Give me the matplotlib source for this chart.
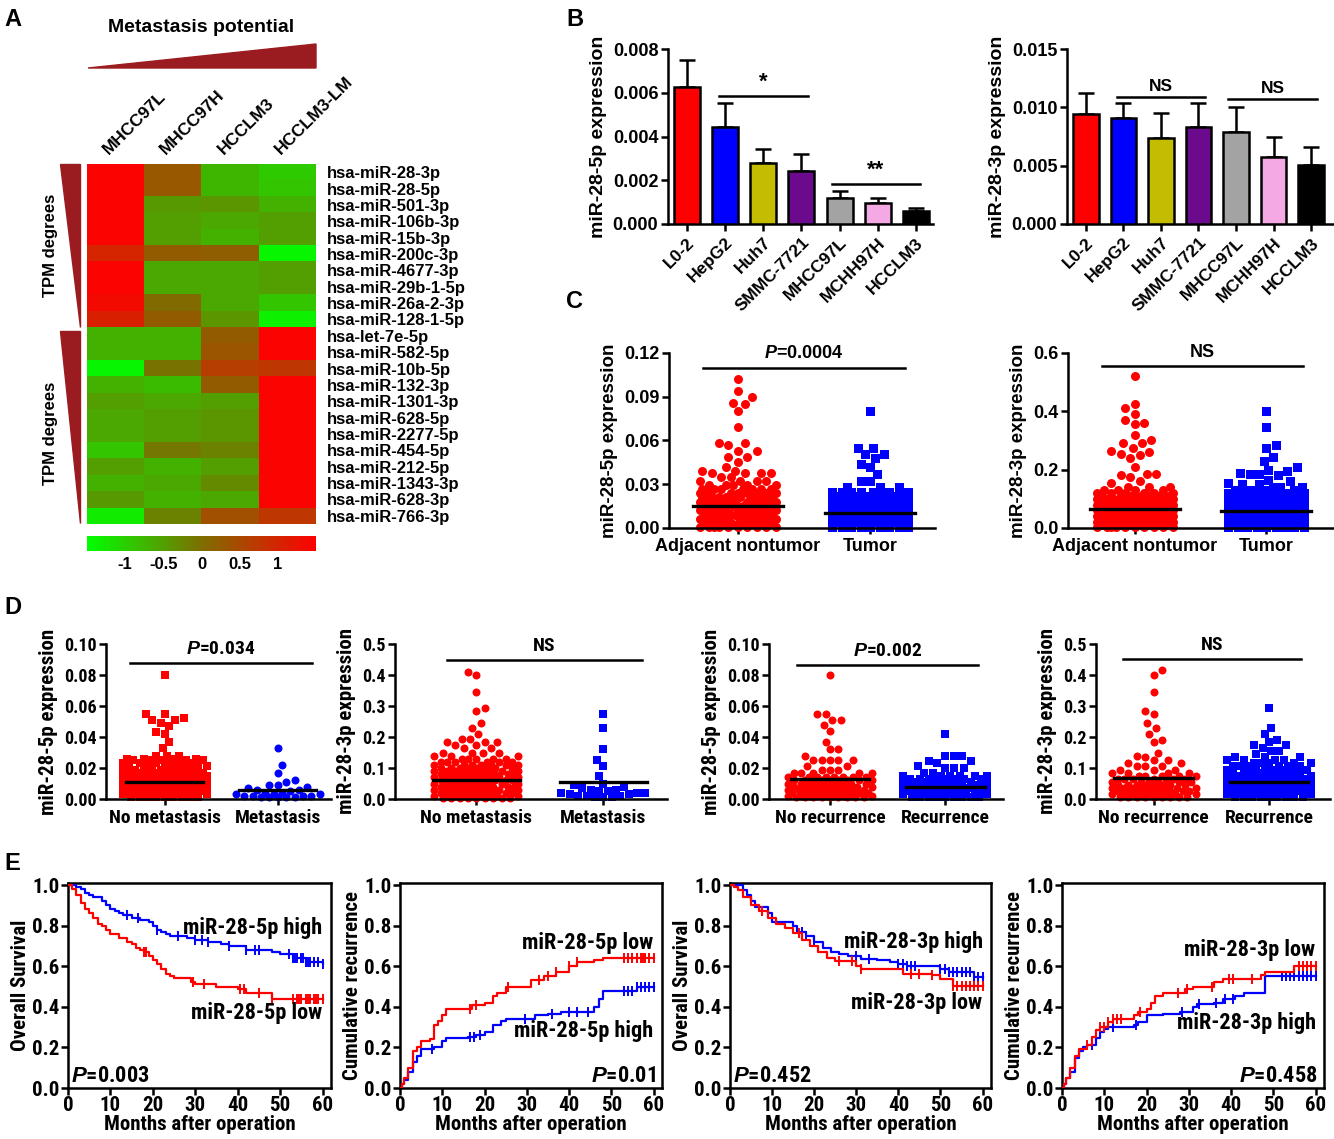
import numpy as np
import matplotlib
matplotlib.use("Agg")
import matplotlib.pyplot as plt
from matplotlib import font_manager as fm
from matplotlib.colors import LinearSegmentedColormap
from matplotlib.patches import Polygon
from matplotlib.ticker import FormatStrFormatter


def rle(text):
    out = []
    for tok in text.split():
        v, _, n = tok.partition("*")
        out += [float(v)] * int(n or 1)
    return np.array(out)


# ---------------- data ----------------
# A: heatmap (z-score of TPM)
cell_cols = ["MHCC97L", "MHCC97H", "HCCLM3", "HCCLM3-LM"]
mirnas = ["hsa-miR-28-3p", "hsa-miR-28-5p", "hsa-miR-501-3p", "hsa-miR-106b-3p",
          "hsa-miR-15b-3p", "hsa-miR-200c-3p", "hsa-miR-4677-3p", "hsa-miR-29b-1-5p",
          "hsa-miR-26a-2-3p", "hsa-miR-128-1-5p", "hsa-let-7e-5p", "hsa-miR-582-5p",
          "hsa-miR-10b-5p", "hsa-miR-132-3p", "hsa-miR-1301-3p", "hsa-miR-628-5p",
          "hsa-miR-2277-5p", "hsa-miR-454-5p", "hsa-miR-212-5p", "hsa-miR-1343-3p",
          "hsa-miR-628-3p", "hsa-miR-766-3p"]
tpm_z = [[1.45, 0.30, -0.75, -0.95],
         [1.45, 0.30, -0.75, -0.90],
         [1.45, -0.45, -0.40, -0.70],
         [1.45, -0.50, -0.60, -0.50],
         [1.45, -0.50, -0.70, -0.50],
         [1.00, 0.25, 0.20, -1.40],
         [1.45, -0.60, -0.60, -0.50],
         [1.45, -0.60, -0.60, -0.50],
         [1.35, 0.05, -0.60, -0.90],
         [1.05, 0.25, -0.40, -1.35],
         [-0.70, -0.70, 0.25, 1.45],
         [-0.70, -0.70, 0.35, 1.45],
         [-1.40, -0.05, 0.65, 0.75],
         [-0.70, -0.80, 0.25, 1.45],
         [-0.50, -0.60, -0.50, 1.45],
         [-0.60, -0.50, -0.40, 1.45],
         [-0.60, -0.50, -0.40, 1.45],
         [-0.90, -0.10, -0.20, 1.45],
         [-0.50, -0.70, -0.50, 1.45],
         [-0.70, -0.60, -0.30, 1.45],
         [-0.45, -0.70, -0.60, 1.45],
         [-1.30, -0.20, 0.40, 0.75]]

# B: cell line qPCR
cell_lines = ["L0-2", "HepG2", "Huh7", "SMMC-7721", "MHCC97L", "MCHH97H", "HCCLM3"]
bar_colors = ["#ff0000", "#0000ff", "#c4bc00", "#6c0a8e", "#a3a3a3", "#f4a8e4", "#000000"]
mir5p_cells = [0.00628, 0.00442, 0.00277, 0.00244, 0.00117, 0.00095, 0.00059]
mir5p_cells_sem = [0.00122, 0.00113, 0.00064, 0.00076, 0.00034, 0.00022, 0.00016]
mir3p_cells = [0.00943, 0.00906, 0.00734, 0.00829, 0.00791, 0.00577, 0.00506]
mir3p_cells_sem = [0.00183, 0.00128, 0.00215, 0.00205, 0.00215, 0.00172, 0.00157]

# C: tissue expression
c5p_adjacent = rle("""0.102 0.094 0.090 0.086 0.085 0.080 0.069 0.058*2 0.057 0.053*2 0.049*2 0.0455
0.0416 0.039*2 0.0375*4 0.035*2 0.032*4 0.0295*5 0.027*7 0.024*8 0.021*9 0.018*10 0.015*10
0.012*10 0.009*10 0.006*10 0.003*10 0.001*10""")
c5p_tumor = rle("""0.080 0.0546*2 0.0505*2 0.048 0.0437 0.042 0.037 0.032*2 0.028*3 0.025*7 0.022*8
0.019*9 0.016*10 0.013*10 0.010*10 0.007*10 0.004*10 0.001*10""")
c5p_means = [0.015, 0.010]
c3p_adjacent = rle("""0.52 0.425 0.41 0.39 0.37 0.36 0.355 0.32 0.30 0.29*2 0.275 0.265 0.26 0.255
0.25 0.24 0.21 0.185*2 0.18 0.175 0.16 0.155 0.14*3 0.13*4 0.12*6 0.11*7 0.10*8 0.09*9 0.08*9
0.07*10 0.06*10 0.05*10 0.04*10 0.03*10 0.02*10 0.01*10 0.003*10""")
c3p_tumor = rle("""0.40 0.345 0.285 0.275 0.245 0.23 0.21 0.20 0.195 0.19 0.185*2 0.18 0.165 0.16
0.155 0.15*2 0.14*3 0.13*4 0.12*6 0.11*7 0.10*8 0.09*9 0.08*10 0.07*10 0.06*10 0.05*10 0.04*10
0.03*10 0.02*10 0.01*10 0.003*10""")
c3p_means = [0.065, 0.058]

# D: clinical subgroups
d5p_nometa = rle("""0.080 0.055 0.055 0.052 0.051 0.051 0.049 0.047 0.043 0.042 0.037 0.033
0.028*3 0.026*4 0.025*5 0.023*6 0.021*7 0.019*8 0.017*9 0.015*9 0.013*9 0.011*9 0.009*9
0.007*9 0.005*9 0.003*9 0.001*9""")
d5p_meta = rle("""0.033 0.022 0.017 0.012 0.011 0.009*2 0.008 0.007 0.006*2 0.005 0.004*2
0.003*3 0.002*4 0.001*5""")
d5p_meta_means = [0.011, 0.0058]
d3p_nometa = rle("""0.41 0.40 0.345 0.295 0.285 0.245 0.23 0.21 0.195*2 0.185*3 0.175*2 0.165*2
0.15*4 0.14*3 0.13*5 0.12*6 0.11*7 0.10*8 0.09*9 0.08*9 0.07*9 0.06*9 0.05*9 0.04*9 0.03*9
0.02*9 0.01*9 0.003*9""")
d3p_meta = rle("""0.275 0.23 0.16 0.125 0.105 0.075 0.05 0.045 0.04 0.035 0.03*2 0.025*2 0.02*3
0.015*2 0.01*3 0.005*3""")
d3p_meta_means = [0.061, 0.056]
d5p_norec = rle("""0.080 0.055*2 0.051*2 0.048 0.044 0.037 0.032*2 0.028 0.025*5 0.021*2 0.019*3
0.0165*5 0.014*8 0.012*9 0.010*9 0.008*9 0.006*9 0.004*9 0.002*9 0.001*9""")
d5p_rec = rle("""0.042 0.028*3 0.0245*2 0.023 0.021 0.020*3 0.017*2 0.015*6 0.013*8 0.011*9
0.009*9 0.007*9 0.005*9 0.003*9 0.001*9""")
d5p_rec_means = [0.0127, 0.008]
d3p_norec = rle("""0.415 0.40 0.345 0.285 0.275 0.245 0.23 0.21 0.19 0.185 0.15 0.14 0.135
0.125*2 0.115*2 0.105*3 0.095*3 0.085*4 0.075*5 0.065*6 0.055*7 0.045*8 0.035*9 0.025*9
0.015*9 0.005*9""")
d3p_rec = rle("""0.295 0.23 0.21 0.19 0.185 0.175*2 0.165 0.155*2 0.145 0.135*3 0.125*4 0.115*5
0.105*6 0.095*7 0.085*8 0.075*9 0.065*9 0.055*9 0.045*9 0.035*9 0.025*9 0.015*9 0.005*9""")
d3p_rec_means = [0.068, 0.054]

# E: Kaplan-Meier steps (time of change, value after change) and censor times
km1_hi_t = [0, 2, 3, 4, 5, 6, 8, 9, 10, 11, 12, 13, 15, 17, 19, 20, 21, 22, 23, 24, 28, 30, 33, 36, 38, 42, 48, 50, 53, 56, 60]
km1_hi_s = [1.0, 0.99, 0.98, 0.96, 0.95, 0.94, 0.92, 0.90, 0.88, 0.87, 0.86, 0.85, 0.84, 0.83, 0.82, 0.80,
            0.78, 0.77, 0.76, 0.75, 0.74, 0.73, 0.72, 0.71, 0.70, 0.68, 0.67, 0.66, 0.64, 0.62, 0.61]
km1_lo_t = [0, 1, 2, 3, 4, 5, 6, 7, 8, 9, 10, 12, 14, 15, 16, 17, 18, 19, 20, 21, 22, 23, 24, 25, 29, 30, 35, 40, 42, 48, 60]
km1_lo_s = [1.0, 0.98, 0.95, 0.91, 0.88, 0.86, 0.84, 0.81, 0.80, 0.78, 0.76, 0.74, 0.72, 0.71, 0.69, 0.68,
            0.67, 0.65, 0.63, 0.61, 0.585, 0.56, 0.55, 0.54, 0.52, 0.51, 0.50, 0.49, 0.47, 0.44, 0.44]
cens1_hi = [14, 16.5, 21, 26, 30, 31.5, 33, 38, 42, 44, 45, 52, 53, 53.5, 54, 55, 55.5, 56, 56.5, 57, 58, 59, 60]
cens1_lo = [18, 18.5, 29.5, 32, 40.5, 41.5, 45, 48, 53, 54, 54.5, 55, 56, 56.5, 57, 58, 58.5, 59, 60]

km2_lo_t = [0, 0.5, 1, 2, 3, 4, 5, 7, 8, 9, 10, 11, 17, 20, 22, 23, 25, 31, 34, 37, 40, 42, 46, 48, 60]
km2_lo_s = [0, 0.02, 0.05, 0.10, 0.18, 0.20, 0.23, 0.24, 0.31, 0.33, 0.36, 0.39, 0.41, 0.42, 0.455, 0.47,
            0.50, 0.53, 0.55, 0.57, 0.60, 0.62, 0.63, 0.64, 0.64]
km2_hi_t = [0, 0.5, 1, 2, 3, 4, 5, 8, 10, 11, 16, 18, 20, 22, 24, 25, 32, 35, 38, 46, 47, 48, 56, 60]
km2_hi_s = [0, 0.02, 0.04, 0.08, 0.13, 0.16, 0.19, 0.20, 0.23, 0.245, 0.25, 0.26, 0.275, 0.31, 0.33, 0.34,
            0.36, 0.365, 0.375, 0.40, 0.44, 0.48, 0.50, 0.50]
cens2_lo = [16.5, 18, 25.5, 33, 35, 37, 40, 42, 53, 54, 55, 56, 57, 57.5, 58, 59, 60]
cens2_hi = [7.5, 16.5, 17.5, 19, 29.5, 36, 40, 42, 44.5, 53, 54, 55, 56, 57, 58, 59, 60]

km3_hi_t = [0, 3, 4, 5, 6, 9, 10, 15, 16, 18, 20, 22, 24, 26, 28, 31, 35, 38, 40, 42, 50, 52, 58, 60]
km3_hi_s = [1.0, 0.975, 0.95, 0.92, 0.89, 0.86, 0.82, 0.80, 0.77, 0.75, 0.72, 0.69, 0.67, 0.66, 0.65, 0.635,
            0.63, 0.62, 0.61, 0.60, 0.585, 0.57, 0.545, 0.545]
km3_lo_t = [0, 1, 2, 3, 5, 7, 9, 11, 13, 15, 17, 19, 21, 23, 25, 30, 31, 41, 48, 50, 53, 60]
km3_lo_s = [1.0, 0.99, 0.975, 0.94, 0.90, 0.87, 0.84, 0.81, 0.79, 0.765, 0.73, 0.70, 0.67, 0.64, 0.625,
            0.60, 0.585, 0.56, 0.555, 0.535, 0.505, 0.505]
cens3_hi = [17, 18, 20, 30, 33, 40, 41, 42, 43, 44, 50, 51, 52, 53, 54, 55, 56, 57, 58, 59, 60]
cens3_lo = [7.5, 16.5, 26, 29, 31, 43, 45, 48, 53, 54, 55, 56, 57, 58, 59, 60]

km4_lo_t = [0, 0.5, 1, 2, 3, 4, 6, 7, 8, 9, 11, 12, 17, 18, 20, 21, 22, 24, 29, 31, 36, 38, 47, 48, 55, 60]
km4_lo_s = [0, 0.02, 0.05, 0.10, 0.16, 0.19, 0.21, 0.25, 0.285, 0.30, 0.325, 0.34, 0.36, 0.375, 0.39, 0.42,
            0.455, 0.47, 0.49, 0.50, 0.52, 0.535, 0.555, 0.57, 0.60, 0.60]
km4_hi_t = [0, 0.5, 1, 2, 3, 4, 5, 6, 8, 9, 10, 11, 17, 18, 20, 24, 28, 31, 32, 36, 38, 41, 43, 48, 60]
km4_hi_s = [0, 0.02, 0.05, 0.08, 0.15, 0.18, 0.20, 0.21, 0.245, 0.275, 0.29, 0.30, 0.31, 0.325, 0.36, 0.365,
            0.375, 0.40, 0.415, 0.42, 0.44, 0.455, 0.47, 0.55, 0.55]
cens4_lo = [6, 9, 10, 11, 12, 13, 14, 18.5, 27.5, 29.5, 35.5, 39.5, 40.5, 45, 56, 57, 58, 59, 60]
cens4_hi = [7, 12, 17.5, 28.5, 32.5, 36.5, 38.5, 40.5, 52, 53, 54, 55, 56, 57, 58, 59, 60]

# ---------------- style ----------------
names = {f.name for f in fm.fontManager.ttflist}
BASE = "Liberation Sans" if "Liberation Sans" in names else "DejaVu Sans"

# a condensed bold face for panels D/E if one is installed
narrow_path = None
for f in fm.fontManager.ttflist:
    fn = f.fname.lower()
    if ("narrow" in fn or "condensed" in fn) and "bold" in fn and "oblique" not in fn and "italic" not in fn:
        narrow_path = f.fname
        if "liberation" in fn:
            break


def nfp(size):
    if narrow_path:
        return fm.FontProperties(fname=narrow_path, size=size)
    return fm.FontProperties(family=BASE, weight="bold", size=size - 1.5)


plt.rcParams["font.family"] = [BASE, "DejaVu Sans"]
plt.rcParams["font.weight"] = "bold"
plt.rcParams["axes.labelweight"] = "bold"
plt.rcParams["mathtext.fontset"] = "custom"
plt.rcParams["mathtext.it"] = f"{BASE}:italic:bold"
plt.rcParams["mathtext.rm"] = f"{BASE}:bold"

RED, BLUE = "#ff0000", "#0000ff"
DARKRED = "#9b1c20"
W, H = 1334, 1139
fig = plt.figure(figsize=(W / 100, H / 100), dpi=100)


def px_axes(x0, y0, x1, y1, **kw):
    return fig.add_axes([x0 / W, 1 - y1 / H, (x1 - x0) / W, (y1 - y0) / H], **kw)


def open_style(ax, fs, narrow=False):
    for s in ["top", "right"]:
        ax.spines[s].set_visible(False)
    for s in ["left", "bottom"]:
        ax.spines[s].set_linewidth(1.8)
    ax.tick_params(width=1.8, length=5, labelsize=fs, pad=2)
    if narrow:
        for lab in ax.get_yticklabels():
            lab.set_fontproperties(nfp(fs))


# overlay for letters and wedges (pixel coordinates)
ov = fig.add_axes([0, 0, 1, 1], zorder=-1)
ov.set_xlim(0, W)
ov.set_ylim(H, 0)
ov.axis("off")
for letter, (lx, ly) in {"A": (4, 8), "B": (566, 8), "C": (566, 290), "D": (4, 596), "E": (4, 852)}.items():
    ov.text(lx, ly, letter, fontsize=17, fontweight="bold", va="top", ha="left")

# ---------------- A: heatmap ----------------
ov.add_patch(Polygon([(88, 68), (316, 44), (316, 68)], closed=True, color=DARKRED))
ov.text(201, 27, "Metastasis potential", fontsize=14, ha="center", va="center")
ov.add_patch(Polygon([(60, 164), (80, 164), (80, 327)], closed=True, color=DARKRED))
ov.add_patch(Polygon([(60, 331), (80, 331), (80, 523)], closed=True, color=DARKRED))
ov.text(50, 245, "TPM degrees", rotation=90, fontsize=12, ha="center", va="center")
ov.text(50, 433, "TPM degrees", rotation=90, fontsize=12, ha="center", va="center")

cmap = LinearSegmentedColormap.from_list("gr", ["#00ff00", "#7d6e00", "#ff0000"])
axh = px_axes(87, 164, 316, 524)
im = axh.imshow(np.array(tpm_z), cmap=cmap, vmin=-1.5, vmax=1.5, aspect="auto",
                interpolation="nearest", extent=(0, len(cell_cols), len(mirnas), 0))
axh.set_xticks([])
axh.yaxis.tick_right()
axh.set_yticks(np.arange(len(mirnas)) + 0.5)
axh.set_yticklabels(mirnas, fontsize=12)
axh.tick_params(axis="y", length=0, pad=8)
for s in axh.spines.values():
    s.set_visible(False)
for i, name in enumerate(cell_cols):
    axh.text(i + 0.42, -0.4, name, rotation=45, rotation_mode="anchor",
             ha="left", va="bottom", fontsize=12.5)

cax = px_axes(87, 536, 316, 551)
cb = fig.colorbar(im, cax=cax, orientation="horizontal", ticks=[-1, -0.5, 0, 0.5, 1])
cb.outline.set_visible(False)
cb.ax.set_xticklabels(["-1", "-0.5", "0", "0.5", "1"], fontsize=12)
cb.ax.tick_params(length=0, pad=4)


# ---------------- B: bar charts ----------------
def bar_panel(box, vals, sem, ymax, ystep, fmt, ylabel, brackets, xmax):
    ax = px_axes(*box)
    x = np.arange(len(vals))
    ax.bar(x, vals, width=0.68, color=bar_colors, edgecolor="black", linewidth=1.8, zorder=3)
    ax.errorbar(x, vals, yerr=[np.zeros(len(sem)), sem], fmt="none", ecolor="black",
                elinewidth=1.8, capsize=6, capthick=1.8, zorder=2)
    ax.set_xlim(-0.5, xmax)
    ax.set_ylim(0, ymax)
    ax.set_yticks(np.arange(0, ymax + ystep / 2, ystep))
    ax.yaxis.set_major_formatter(FormatStrFormatter(fmt))
    ax.set_xticks(x)
    ax.set_xticklabels(cell_lines, rotation=45, ha="right", rotation_mode="anchor")
    open_style(ax, 13)
    ax.tick_params(axis="x", labelsize=12.5, pad=3)
    ax.set_ylabel(ylabel, fontsize=14, labelpad=4)
    for (xa, xb, yb, txt) in brackets:
        ax.plot([xa, xb], [yb, yb], color="black", lw=1.8, clip_on=False)
        ax.text((xa + xb) / 2, yb + ymax * 0.02, txt, ha="center", va="bottom",
                fontsize=16 if "*" in txt else 12.5)
    return ax


bar_panel((668, 49, 933, 224), mir5p_cells, mir5p_cells_sem, 0.008, 0.002, "%.3f",
          "miR-28-5p expression",
          [(0.84, 3.17, 0.00585, "*"), (3.8, 6.1, 0.00183, "**")], 6.45)
bar_panel((1067, 49, 1333, 224), mir3p_cells, mir3p_cells_sem, 0.015, 0.005, "%.3f",
          "miR-28-3p expression",
          [(0.82, 3.18, 0.01086, "NS"), (3.79, 6.15, 0.0107, "NS")], 6.58)


# ---------------- C / D: scatter dot plots ----------------
def swarm_x(ax, vals, center, d, half):
    """Beeswarm offsets: each point goes to the free slot nearest the centre."""
    pos = ax.get_position()
    x0, x1 = ax.get_xlim()
    y0, y1 = ax.get_ylim()
    sx = pos.width * W / (x1 - x0)
    sy = pos.height * H / (y1 - y0)
    v = np.asarray(vals)
    ypx = v * sy
    steps = np.arange(d / 4, half + 0.01, d / 4)
    cand = np.concatenate([[0.0], np.column_stack([steps, -steps]).ravel()])
    off = np.zeros(len(v))
    px_list, py_list = [], []
    for k, i in enumerate(np.argsort(v, kind="stable")):
        c = cand if k % 2 == 0 else -cand
        j = 0
        if px_list:
            PX, PY = np.array(px_list), np.array(py_list)
            dy2 = (PY - ypx[i]) ** 2
            near = dy2 < d * d
            if near.any():
                dist = np.sqrt((c[:, None] - PX[near][None, :]) ** 2 + dy2[near][None, :]).min(axis=1)
                ok = np.where(dist >= d * 0.98)[0]
                j = ok[0] if len(ok) else int(np.argmax(dist))
        off[i] = c[j]
        px_list.append(c[j])
        py_list.append(ypx[i])
    return center + off / sx


def dot_panel(box, xlim, groups, markers, means, ymax, ystep, fmt, ylabel, xlabels,
              sig, msize, half, narrow):
    ax = px_axes(*box)
    ax.set_xlim(*xlim)
    ax.set_ylim(0, ymax)
    for i, (vals, mk, col) in enumerate(zip(groups, markers, [RED, BLUE])):
        xs = swarm_x(ax, vals, i + 1, msize * 1.05, half)
        ax.scatter(xs, vals, marker=mk, s=(msize * 0.72) ** 2, color=col, linewidths=0,
                   clip_on=False, zorder=2)
        ax.plot([i + 1 - 0.34, i + 1 + 0.34], [means[i], means[i]], color="black", lw=2.4, zorder=3)
    ax.set_yticks(np.arange(0, ymax + ystep / 2, ystep))
    ax.yaxis.set_major_formatter(FormatStrFormatter(fmt))
    ax.set_xticks([1, 2])
    ax.set_xticklabels(xlabels)
    open_style(ax, 13, narrow)
    ax.tick_params(axis="x", length=4, pad=3, labelsize=13)
    xa, xb, yl, txt = sig
    ax.plot([xa, xb], [yl, yl], color="black", lw=1.8, clip_on=False)
    if narrow:
        for lab in ax.get_xticklabels():
            lab.set_fontproperties(nfp(14))
        ax.set_ylabel(ylabel, fontproperties=nfp(15), labelpad=4)
        ax.text((xa + xb) / 2, yl + ymax * 0.03, txt, ha="center", va="bottom", fontproperties=nfp(14))
    else:
        ax.set_ylabel(ylabel, fontsize=13.5, labelpad=4)
        ax.text((xa + xb) / 2, yl + ymax * 0.03, txt, ha="center", va="bottom", fontsize=13)
    return ax


dot_panel((669, 353, 935, 528), (0.48, 2.49), [c5p_adjacent, c5p_tumor], ["o", "s"], c5p_means,
          0.12, 0.03, "%.2f", "miR-28-5p expression", ["Adjacent nontumor", "Tumor"],
          (0.74, 2.26, 0.11, r"$\mathit{P}$=0.0004"), 9, 40, False)
dot_panel((1068, 353, 1333, 528), (0.49, 2.51), [c3p_adjacent, c3p_tumor], ["o", "s"], c3p_means,
          0.6, 0.2, "%.1f", "miR-28-3p expression", ["Adjacent nontumor", "Tumor"],
          (0.75, 2.28, 0.555, "NS"), 9, 40, False)

dot_panel((106, 644, 331, 799), (0.48, 2.47), [d5p_nometa, d5p_meta], ["s", "o"], d5p_meta_means,
          0.10, 0.02, "%.2f", "miR-28-5p expression", ["No metastasis", "Metastasis"],
          (0.69, 2.30, 0.088, r"$\mathit{P}$=0.034"), 8, 42, True)
dot_panel((395, 644, 667, 799), (0.36, 2.50), [d3p_nometa, d3p_meta], ["o", "s"], d3p_meta_means,
          0.5, 0.1, "%.1f", "miR-28-3p expression", ["No metastasis", "Metastasis"],
          (0.77, 2.30, 0.448, "NS"), 8, 42, True)
dot_panel((769, 644, 1003, 799), (0.47, 2.50), [d5p_norec, d5p_rec], ["o", "s"], d5p_rec_means,
          0.10, 0.02, "%.2f", "miR-28-5p expression", ["No recurrence", "Recurrence"],
          (0.71, 2.28, 0.0865, r"$\mathit{P}$=0.002"), 8, 42, True)
dot_panel((1096, 644, 1330, 799), (0.50, 2.53), [d3p_norec, d3p_rec], ["o", "s"], d3p_rec_means,
          0.5, 0.1, "%.1f", "miR-28-3p expression", ["No recurrence", "Recurrence"],
          (0.73, 2.28, 0.452, "NS"), 8, 42, True)


# ---------------- E: Kaplan-Meier ----------------
def km_panel(box, curves, ylabel, labels, ptxt, pright):
    ax = px_axes(*box)
    for t, s, cens, col in curves:
        t, s = np.asarray(t), np.asarray(s)
        ax.step(t, s, where="post", color=col, lw=1.6, zorder=3)
        c = np.asarray(cens)
        cy = s[np.searchsorted(t, c, side="right") - 1]
        ax.plot(c, cy, ls="none", marker="|", ms=7, mew=1.4, color=col, zorder=3)
    ax.set_xlim(0, 62)
    ax.set_ylim(0, 1.01)
    ax.set_xticks(np.arange(0, 61, 10))
    ax.set_yticks(np.arange(0, 1.01, 0.2))
    ax.yaxis.set_major_formatter(FormatStrFormatter("%.1f"))
    for s in ax.spines.values():
        s.set_linewidth(1.8)
    ax.tick_params(width=1.8, length=5, pad=1)
    for lab in ax.get_xticklabels() + ax.get_yticklabels():
        lab.set_fontproperties(nfp(15))
    ax.set_xlabel("Months after operation", fontproperties=nfp(15), labelpad=0)
    ax.set_ylabel(ylabel, fontproperties=nfp(15), labelpad=2)
    for txt, yy in labels:
        ax.text(60, yy, txt, ha="right", va="center", fontproperties=nfp(16))
    if pright:
        ax.text(60.5, 0.06, ptxt, ha="right", va="center", fontproperties=nfp(16))
    else:
        ax.text(0.8, 0.06, ptxt, ha="left", va="center", fontproperties=nfp(16))
    return ax


km_panel((68, 883, 331, 1088),
         [(km1_hi_t, km1_hi_s, cens1_hi, BLUE), (km1_lo_t, km1_lo_s, cens1_lo, RED)],
         "Overall Survival", [("miR-28-5p high", 0.79), ("miR-28-5p low", 0.37)],
         r"$\mathit{P}$=0.003", False)
km_panel((400, 883, 662, 1088),
         [(km2_hi_t, km2_hi_s, cens2_hi, BLUE), (km2_lo_t, km2_lo_s, cens2_lo, RED)],
         "Cumulative recurrence", [("miR-28-5p low", 0.715), ("miR-28-5p high", 0.28)],
         r"$\mathit{P}$=0.01", True)
km_panel((730, 883, 991, 1088),
         [(km3_hi_t, km3_hi_s, cens3_hi, BLUE), (km3_lo_t, km3_lo_s, cens3_lo, RED)],
         "Overall Survival", [("miR-28-3p high", 0.72), ("miR-28-3p low", 0.42)],
         r"$\mathit{P}$=0.452", False)
km_panel((1062, 883, 1324, 1088),
         [(km4_hi_t, km4_hi_s, cens4_hi, BLUE), (km4_lo_t, km4_lo_s, cens4_lo, RED)],
         "Cumulative recurrence", [("miR-28-3p low", 0.68), ("miR-28-3p high", 0.32)],
         r"$\mathit{P}$=0.458", True)

fig.savefig("out.png", dpi=100)
